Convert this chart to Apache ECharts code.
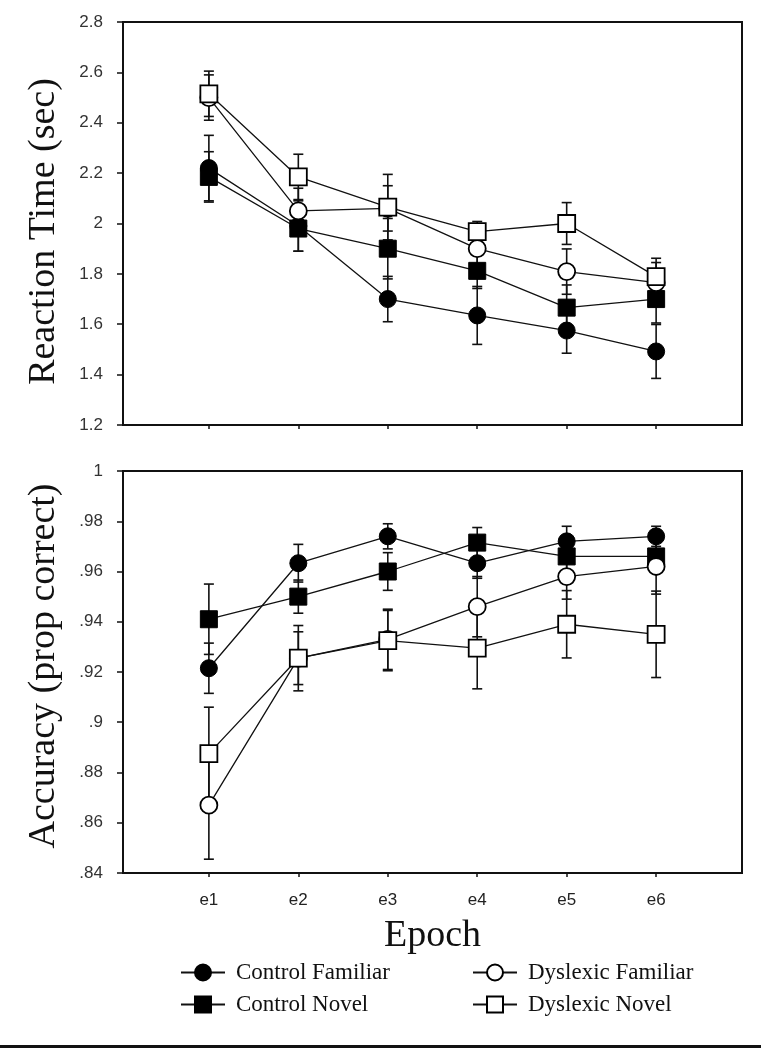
<!DOCTYPE html>
<html>
<head>
<meta charset="utf-8">
<script src="https://cdn.jsdelivr.net/npm/echarts@6/dist/echarts.min.js"></script>
<style>
html,body{margin:0;padding:0;background:#fff;}
#chart{width:761px;height:1050px;}
</style>
</head>
<body>
<div id="chart"></div>
<script>
// ---- data ----
var epochs = ['e1', 'e2', 'e3', 'e4', 'e5', 'e6'];
var seriesNames = ['Control Familiar', 'Control Novel', 'Dyslexic Familiar', 'Dyslexic Novel'];

// Reaction time (sec)
var rtControlFamiliar = [2.22, 1.99, 1.70, 1.635, 1.575, 1.492];
var rtControlFamiliarErr = [0.13, 0.10, 0.09, 0.115, 0.09, 0.107];
var rtControlNovel = [2.185, 1.98, 1.90, 1.812, 1.666, 1.70];
var rtControlNovelErr = [0.10, 0.09, 0.12, 0.07, 0.09, 0.095];
var rtDyslexicFamiliar = [2.50, 2.05, 2.06, 1.90, 1.809, 1.765];
var rtDyslexicFamiliarErr = [0.09, 0.09, 0.09, 0.08, 0.09, 0.08];
var rtDyslexicNovel = [2.515, 2.185, 2.065, 1.968, 2.00, 1.789];
var rtDyslexicNovelErr = [0.09, 0.09, 0.13, 0.04, 0.083, 0.073];

// Accuracy (prop correct)
var accControlFamiliar = [0.9215, 0.9633, 0.974, 0.9633, 0.972, 0.974];
var accControlFamiliarErr = [0.010, 0.0075, 0.005, 0.006, 0.006, 0.004];
var accControlNovel = [0.941, 0.950, 0.960, 0.9715, 0.966, 0.966];
var accControlNovelErr = [0.014, 0.0066, 0.0075, 0.006, 0.006, 0.006];
var accDyslexicFamiliar = [0.867, 0.9255, 0.933, 0.946, 0.958, 0.962];
var accDyslexicFamiliarErr = [0.0215, 0.013, 0.012, 0.012, 0.009, 0.011];
var accDyslexicNovel = [0.8875, 0.9255, 0.9325, 0.9295, 0.939, 0.935];
var accDyslexicNovelErr = [0.0185, 0.0105, 0.012, 0.0162, 0.0134, 0.0172];

var rtYTicks = [1.2, 1.4, 1.6, 1.8, 2, 2.2, 2.4, 2.6, 2.8];
var accYTicks = [0.84, 0.86, 0.88, 0.9, 0.92, 0.94, 0.96, 0.98, 1];

// ---- styling ----
var SERIF = '"Liberation Serif", "Times New Roman", serif';
var SANS = '"Liberation Sans", Arial, sans-serif';
var INK = '#111';
var markerStyles = [
  {symbol: 'circle', symbolSize: 17, itemStyle: {color: '#000', borderColor: '#000', borderWidth: 1}},
  {symbol: 'rect', symbolSize: 17, itemStyle: {color: '#000', borderColor: '#000', borderWidth: 1}},
  {symbol: 'circle', symbolSize: 17, itemStyle: {color: '#fff', borderColor: '#000', borderWidth: 1.8}},
  {symbol: 'rect', symbolSize: 17, itemStyle: {color: '#fff', borderColor: '#000', borderWidth: 1.8}}
];

var rtSets = [[rtControlFamiliar, rtControlFamiliarErr], [rtControlNovel, rtControlNovelErr],
              [rtDyslexicFamiliar, rtDyslexicFamiliarErr], [rtDyslexicNovel, rtDyslexicNovelErr]];
var accSets = [[accControlFamiliar, accControlFamiliarErr], [accControlNovel, accControlNovelErr],
               [accDyslexicFamiliar, accDyslexicFamiliarErr], [accDyslexicNovel, accDyslexicNovelErr]];

var tickPos = epochs.map(function (e, i) { return i + 1; });

function xAxisFor(gridIndex, showLabels, withName) {
  var ax = {
    type: 'value', gridIndex: gridIndex, min: 0.04, max: 6.96,
    axisLine: {show: true, onZero: false, lineStyle: {color: INK, width: 2}},
    axisTick: {show: true, customValues: tickPos, length: 4, lineStyle: {color: INK, width: 1.5}},
    axisLabel: {show: showLabels, customValues: tickPos, margin: 19,
      fontFamily: SANS, fontSize: 17, color: '#222',
      formatter: function (v) { return epochs[Math.round(v) - 1] || ''; }},
    splitLine: {show: false}
  };
  if (withName) {
    ax.name = 'Epoch';
    ax.nameLocation = 'middle';
    ax.nameGap = 44;
    ax.nameTextStyle = {fontFamily: SERIF, fontSize: 38, color: INK};
  }
  return ax;
}

function yAxisFor(gridIndex, ticks, name, fmt, namePad) {
  return {
    type: 'value', gridIndex: gridIndex,
    min: ticks[0], max: ticks[ticks.length - 1],
    interval: +(ticks[1] - ticks[0]).toFixed(4),
    name: name, nameLocation: 'middle', nameGap: 60,
    nameTextStyle: {fontFamily: SERIF, fontSize: 38, color: INK, padding: namePad},
    axisLine: {show: true, onZero: false, lineStyle: {color: INK, width: 2}},
    axisTick: {show: true, inside: false, length: 6, lineStyle: {color: INK, width: 1.5}},
    axisLabel: {margin: 20, fontFamily: SANS, fontSize: 17, color: '#333', formatter: fmt},
    splitLine: {show: false}
  };
}

var series = [];
function addPanel(sets, gridIndex) {
  sets.forEach(function (s, k) {
    var vals = s[0], errs = s[1];
    // error bars
    series.push({
      type: 'custom', name: 'err-' + gridIndex + '-' + k,
      xAxisIndex: gridIndex, yAxisIndex: gridIndex, z: 2, silent: true,
      data: vals.map(function (v, i) { return [i + 1, v - errs[i], v + errs[i]]; }),
      renderItem: function (params, api) {
        var x = api.value(0);
        var lo = api.coord([x, api.value(1)]);
        var hi = api.coord([x, api.value(2)]);
        var hw = 5;
        var st = {stroke: INK, lineWidth: 1.6};
        return {type: 'group', children: [
          {type: 'line', shape: {x1: lo[0], y1: lo[1], x2: hi[0], y2: hi[1]}, style: st},
          {type: 'line', shape: {x1: lo[0] - hw, y1: lo[1], x2: lo[0] + hw, y2: lo[1]}, style: st},
          {type: 'line', shape: {x1: hi[0] - hw, y1: hi[1], x2: hi[0] + hw, y2: hi[1]}, style: st}
        ]};
      }
    });
    var m = markerStyles[k];
    series.push({
      type: 'line', name: seriesNames[k],
      xAxisIndex: gridIndex, yAxisIndex: gridIndex, z: 3 + k,
      data: vals.map(function (v, i) { return [i + 1, v]; }),
      symbol: m.symbol, symbolSize: m.symbolSize, showAllSymbol: true,
      itemStyle: m.itemStyle,
      lineStyle: {color: INK, width: 1.3},
      emphasis: {disabled: true}
    });
  });
}
addPanel(rtSets, 0);
addPanel(accSets, 1);

var legendText = {fontFamily: SERIF, fontSize: 23, color: INK, padding: [0, 0, 0, 6]};
var option = {
  animation: false,
  backgroundColor: '#fff',
  grid: [
    {left: 123, right: 19, top: 22, height: 403, show: true, borderColor: INK, borderWidth: 2},
    {left: 123, right: 19, top: 471, height: 402, show: true, borderColor: INK, borderWidth: 2}
  ],
  xAxis: [xAxisFor(0, false, false), xAxisFor(1, true, true)],
  yAxis: [
    yAxisFor(0, rtYTicks, 'Reaction Time (sec)', function (v) { return String(+v.toFixed(2)); }, [0, 16, 0, 0]),
    yAxisFor(1, accYTicks, 'Accuracy (prop correct)', function (v) {
      return String(+v.toFixed(2)).replace(/^0\./, '.');
    }, [0, 0, 0, 12])
  ],
  legend: [
    {data: ['Control Familiar', 'Control Novel'], orient: 'vertical', left: 175, top: 956,
     itemWidth: 44, itemHeight: 20, itemGap: 9, textStyle: legendText, selectedMode: false},
    {data: ['Dyslexic Familiar', 'Dyslexic Novel'], orient: 'vertical', left: 467, top: 956,
     itemWidth: 44, itemHeight: 20, itemGap: 9, textStyle: legendText, selectedMode: false}
  ],
  graphic: [
    {type: 'rect', left: 0, top: 1045, shape: {width: 761, height: 3}, style: {fill: INK}, silent: true}
  ],
  series: series
};

var chart = echarts.init(document.getElementById('chart'), null, {renderer: 'canvas'});
chart.setOption(option);
</script>
</body>
</html>
